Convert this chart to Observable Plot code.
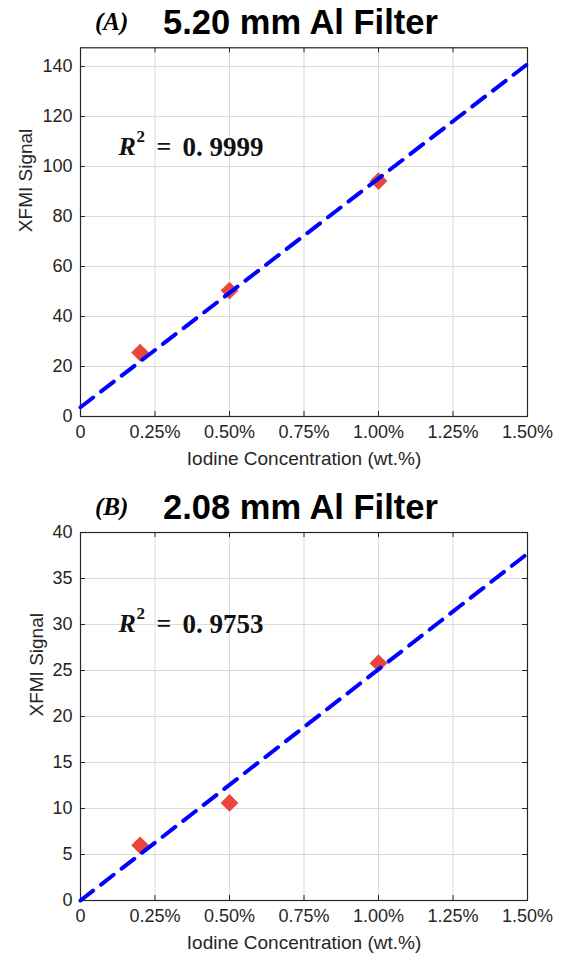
<!DOCTYPE html>
<html><head><meta charset="utf-8">
<script src="https://cdn.jsdelivr.net/npm/d3@7"></script>
<script src="https://cdn.jsdelivr.net/npm/@observablehq/plot@0.6"></script>
<style>
body{margin:0;background:#fff;}
#wrap{position:relative;width:569px;height:964px;overflow:hidden;background:#fff;}
.panel{position:absolute;left:0;}
.title{position:absolute;white-space:nowrap;line-height:1;color:#000;}
.tag{font-family:"Liberation Serif","Times New Roman",serif;font-style:italic;font-weight:bold;font-size:25px;}
.ttl{font-family:"Liberation Sans",Arial,sans-serif;font-weight:bold;font-size:34.5px;}
</style></head><body><div id="wrap"></div>
<script>
const concentration = [0.2, 0.5, 1.0];
const signalA = [25.6, 50.4, 94.2];
const signalB = [6.0, 10.6, 25.8];
const fitX = [0, 1.5];
const fitA = [3.7, 141.0];
const fitB = [0.0, 37.7];
const xTicks = [0, 0.25, 0.5, 0.75, 1.0, 1.25, 1.5];
const yTicksA = [0, 20, 40, 60, 80, 100, 120, 140];
const yTicksB = [0, 5, 10, 15, 20, 25, 30, 35, 40];
const panelTags = ["(A)", "(B)"];
const panelTitles = ["5.20 mm Al Filter", "2.08 mm Al Filter"];
const r2Values = ["0. 9999", "0. 9753"];
const xLabel = "Iodine Concentration (wt.%)";
const yLabel = "XFMI Signal";

function panel({signal, fit, yTicks, yDomain, height, marginTop, marginBottom, yLabelDx, r2Dy, r2Text}) {
  const W = 569, mL = 80, mR = 42;
  const innerW = W - mL - mR, innerH = height - marginTop - marginBottom;
  const pts = concentration.map((c, i) => ({c, s: signal[i]}));
  const line = fitX.map((c, i) => ({c, s: fit[i]}));
  const ink = "#262626";
  const serif = "'Liberation Serif','Times New Roman',serif";
  return Plot.plot({
    width: W, height, marginLeft: mL, marginRight: mR, marginTop, marginBottom,
    style: {fontFamily: "'Liberation Sans', Arial, sans-serif", fontSize: "18px", color: ink, background: "white", overflow: "visible"},
    x: {domain: [0, 1.5]},
    y: {domain: yDomain},
    marks: [
      Plot.gridX(xTicks, {x: d => d, stroke: "#dadada", strokeOpacity: 1, strokeWidth: 1}),
      Plot.gridY(yTicks, {y: d => d, stroke: "#dadada", strokeOpacity: 1, strokeWidth: 1}),
      Plot.tickX(xTicks, {x: d => d, stroke: ink, insetTop: innerH - 5}),
      Plot.tickX(xTicks, {x: d => d, stroke: ink, insetBottom: innerH - 5}),
      Plot.tickY(yTicks, {y: d => d, stroke: ink, insetRight: innerW - 5}),
      Plot.tickY(yTicks, {y: d => d, stroke: ink, insetLeft: innerW - 5}),
      Plot.frame({stroke: ink, strokeWidth: 1.2}),
      Plot.axisX(xTicks, {tickSize: 0, tickPadding: 9, tickFormat: d => d === 0 ? "0" : d.toFixed(2) + "%", label: null, fill: ink}),
      Plot.axisY(yTicks, {tickSize: 0, tickPadding: 8, label: null, fill: ink}),
      Plot.text([xLabel], {frameAnchor: "bottom", dy: 48, text: d => d, fill: ink, fontSize: 19}),
      Plot.text([yLabel], {frameAnchor: "left", dx: yLabelDx, rotate: -90, text: d => d, fill: ink, fontSize: 19}),
      Plot.dot(pts, {x: "c", y: "s", symbol: "diamond2", r: 8, fill: "#e8463c", stroke: "none"}),
      Plot.line(line, {x: "c", y: "s", stroke: "#0000ff", strokeWidth: 4, strokeDasharray: "16,10"}),
      Plot.text(["R"], {frameAnchor: "top-left", dx: 38, dy: r2Dy, text: d => d, textAnchor: "start", fontFamily: serif, fontStyle: "italic", fontWeight: "bold", fontSize: 26, fill: "#111"}),
      Plot.text(["2"], {frameAnchor: "top-left", dx: 56, dy: r2Dy - 7, text: d => d, textAnchor: "start", fontFamily: serif, fontWeight: "bold", fontSize: 17, fill: "#111"}),
      Plot.text(["="], {frameAnchor: "top-left", dx: 76, dy: r2Dy, text: d => d, textAnchor: "start", fontFamily: serif, fontWeight: "bold", fontSize: 26, fill: "#111"}),
      Plot.text([r2Text], {frameAnchor: "top-left", dx: 102, dy: r2Dy, text: d => d, textAnchor: "start", fontFamily: serif, fontWeight: "bold", fontSize: 27, fill: "#111"})
    ]
  });
}

const wrap = document.getElementById("wrap");
const cfgs = [
  {top: 0, signal: signalA, fit: fitA, yTicks: yTicksA, yDomain: [0, 147.5], height: 480, marginTop: 47.3, marginBottom: 64, yLabelDx: -55, r2Dy: 89},
  {top: 480, signal: signalB, fit: fitB, yTicks: yTicksB, yDomain: [0, 40], height: 484, marginTop: 52, marginBottom: 64, yLabelDx: -44, r2Dy: 81.5}
];
cfgs.forEach((c, i) => {
  const div = document.createElement("div");
  div.className = "panel";
  div.style.top = c.top + "px";
  div.appendChild(panel({...c, r2Text: r2Values[i]}));
  wrap.appendChild(div);
  const tag = document.createElement("div");
  tag.className = "title tag";
  tag.textContent = panelTags[i];
  tag.style.left = "95px";
  tag.style.top = (c.top + (i === 0 ? 9 : 14)) + "px";
  wrap.appendChild(tag);
  const t = document.createElement("div");
  t.className = "title ttl";
  t.textContent = panelTitles[i];
  t.style.left = "163px";
  t.style.top = (c.top + (i === 0 ? 5 : 10)) + "px";
  wrap.appendChild(t);
});
</script></body></html>
